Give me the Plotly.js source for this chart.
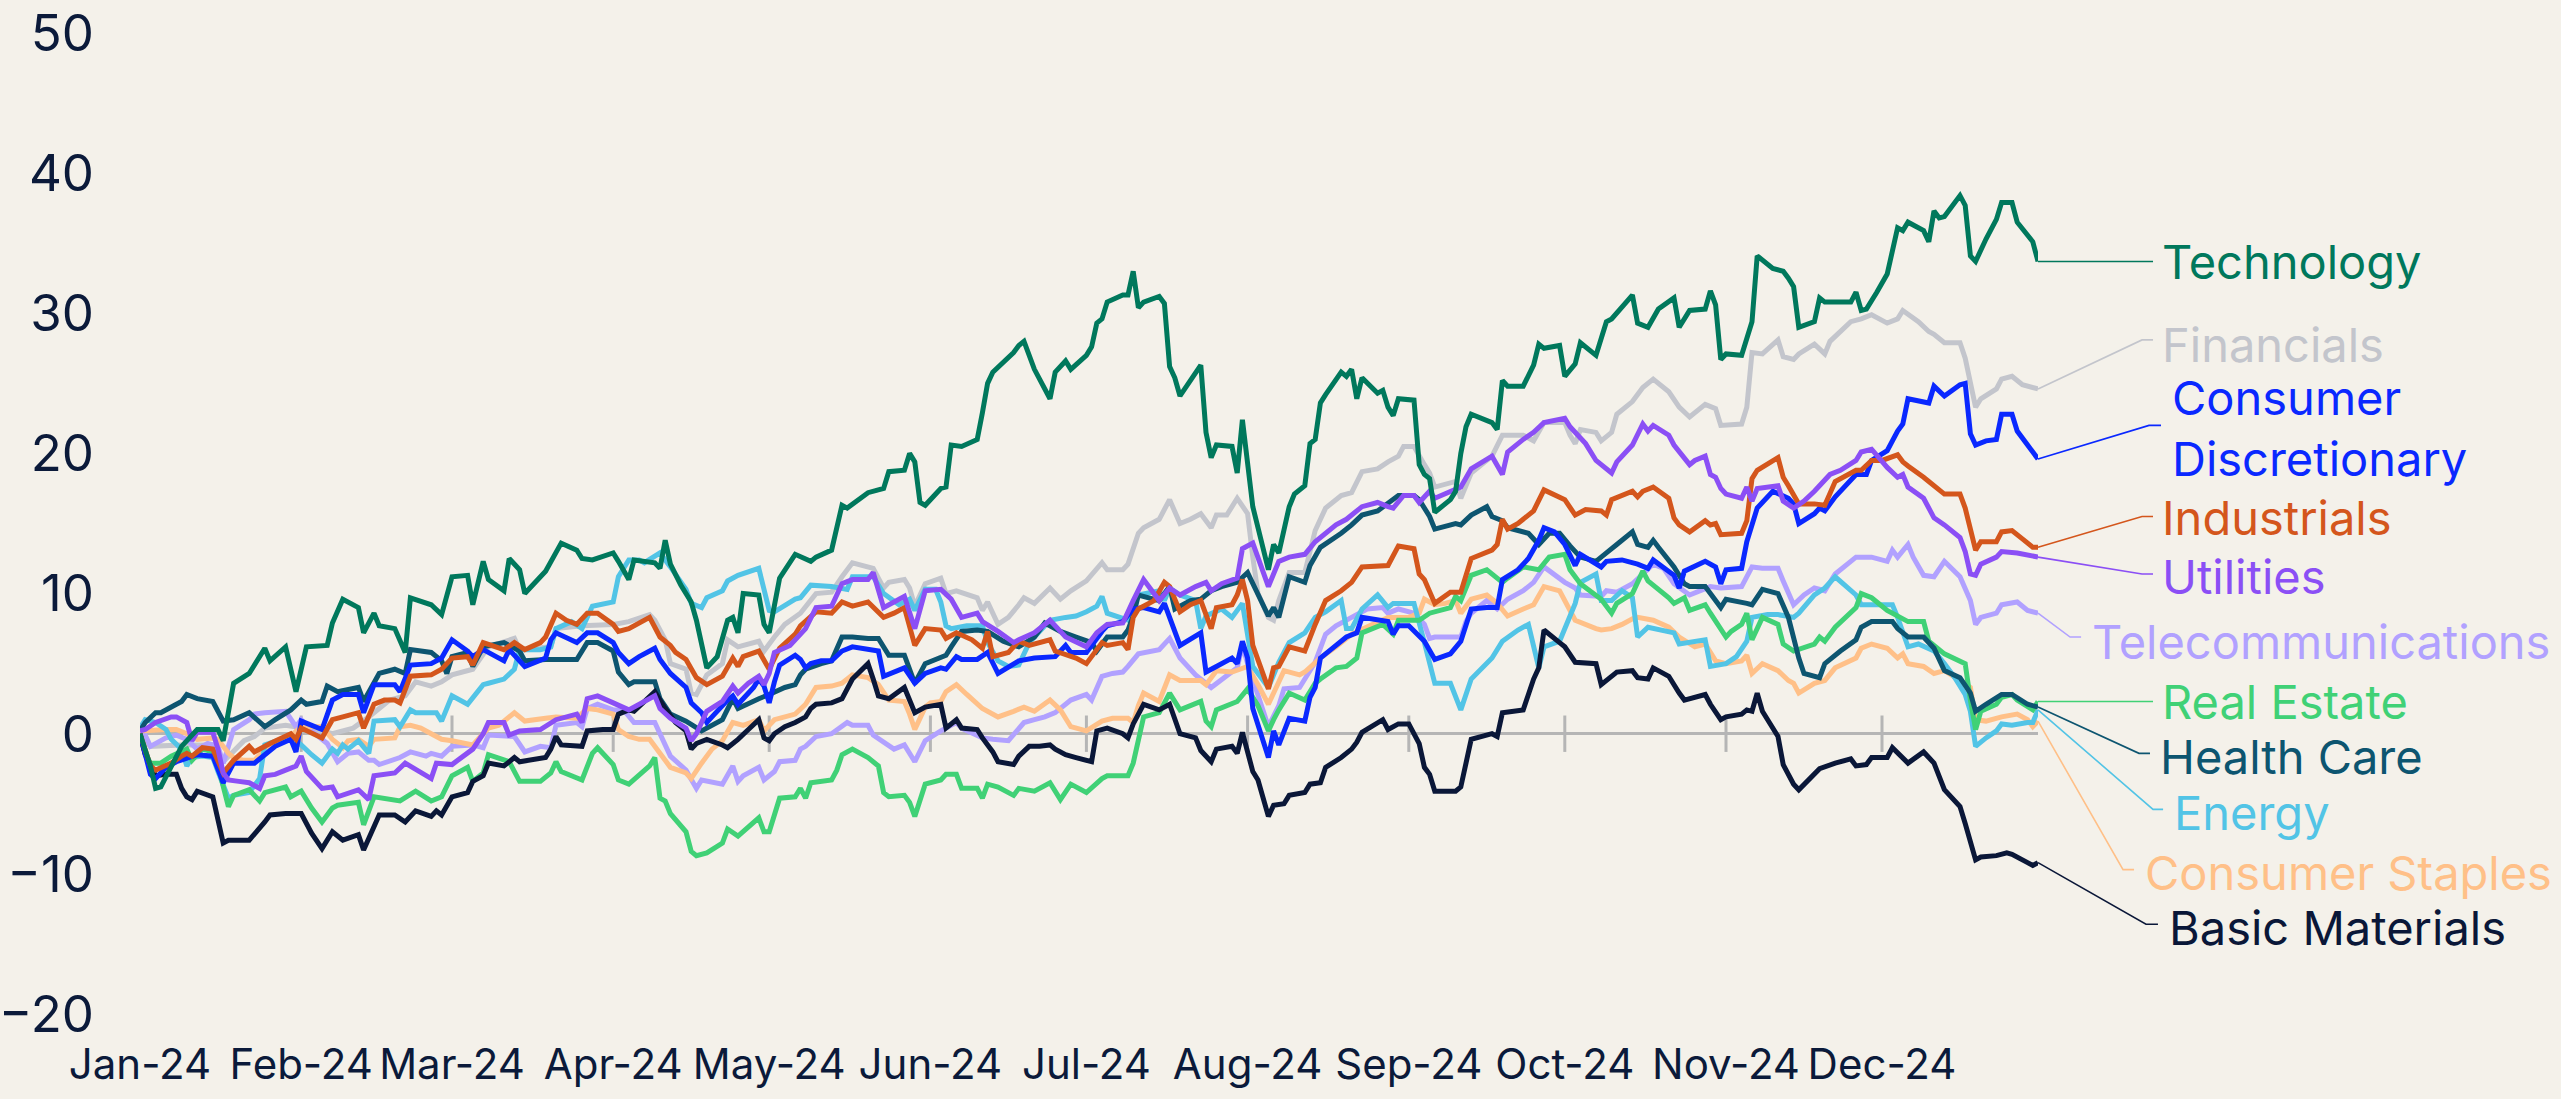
<!DOCTYPE html>
<html>
<head>
<meta charset="utf-8">
<script src="https://cdn.plot.ly/plotly-3.0.1.min.js"></script>
<style>
html,body{margin:0;padding:0;background:#F4F1EA;}
#chart{width:2561px;height:1099px;}
</style>
</head>
<body>
<div id="chart"></div>
<script>
// ---- DATA: [day offset from 2024-01-01, cumulative % return] ----
const technology = [[0,0],[2,-2.3],[3,-3.9],[4,-3.8],[8,-0.9],[11,0.3],[15,0.3],[16,-0.5],[18,3.6],[21,4.3],[24,6.1],[25,5.2],[28,6.2],[30,3.0],[32,6.2],[36,6.3],[37,7.9],[39,9.6],[42,9.0],[43,7.2],[45,8.6],[46,7.7],[49,7.5],[51,5.8],[52,9.7],[56,9.2],[58,8.5],[60,11.2],[63,11.3],[64,9.2],[66,12.3],[67,11.0],[70,10.2],[71,12.5],[73,11.7],[74,10.0],[78,11.6],[81,13.6],[84,13.1],[85,12.5],[87,12.4],[91,12.9],[92,12.3],[94,11.0],[95,12.4],[99,12.2],[100,11.8],[101,13.8],[102,12.1],[104,10.6],[106,9.4],[107,8.1],[109,4.7],[111,5.5],[113,8.1],[114,8.3],[115,7.2],[116,10.0],[119,9.9],[120,7.8],[121,7.2],[123,11.1],[126,12.8],[129,12.3],[130,12.6],[133,13.1],[135,16.3],[136,16.1],[140,17.2],[143,17.5],[144,18.7],[147,18.8],[148,20.0],[149,19.4],[150,16.5],[151,16.3],[154,17.5],[155,17.6],[156,20.6],[158,20.5],[161,21.0],[162,22.9],[163,25.0],[164,25.8],[168,27.2],[169,27.7],[170,28.0],[172,26.0],[175,23.9],[176,25.8],[178,26.6],[179,26.0],[182,27.0],[183,27.6],[184,29.3],[185,29.6],[186,30.8],[189,31.3],[190,31.3],[191,33.0],[192,30.4],[193,30.8],[196,31.2],[197,30.7],[198,26.2],[199,25.4],[200,24.1],[204,26.3],[205,21.5],[206,19.7],[207,20.6],[210,20.5],[211,18.6],[212,22.4],[214,16.2],[217,11.7],[218,13.5],[219,12.9],[221,16.2],[222,17.1],[224,17.7],[225,20.7],[226,21.0],[227,23.6],[228,24.2],[231,25.8],[232,25.5],[233,26.0],[234,23.9],[235,25.4],[238,24.3],[239,24.5],[240,23.3],[241,22.7],[242,23.9],[245,23.8],[246,19.2],[247,18.5],[248,18.2],[249,15.8],[252,16.7],[253,17.3],[254,20.0],[255,21.9],[256,22.8],[260,22.2],[261,21.7],[262,25.2],[263,24.8],[266,24.8],[268,26.3],[269,27.8],[270,27.5],[273,27.7],[274,25.5],[276,26.4],[277,27.9],[280,27.0],[282,29.4],[283,29.6],[287,31.3],[288,29.3],[290,29.0],[292,30.3],[295,31.1],[296,29.0],[298,30.2],[301,30.3],[302,31.6],[303,30.6],[304,26.7],[305,27.1],[308,27.0],[310,29.4],[311,34.1],[314,33.2],[316,33.0],[317,32.5],[318,31.9],[319,29.0],[322,29.4],[323,31.1],[324,30.8],[329,30.8],[330,31.5],[331,30.2],[332,30.3],[334,31.5],[336,32.8],[338,36.1],[339,35.9],[340,36.5],[343,35.9],[344,35.1],[345,37.3],[346,36.8],[347,36.9],[350,38.4],[351,37.7],[352,34.1],[353,33.7],[355,35.3],[357,36.7],[358,37.9],[360,37.9],[361,36.5],[364,35.1],[365,33.7]];

const financials = [[0,0],[2,-0.9],[8,-0.8],[14,-0.8],[16,-2.0],[20,-0.5],[22,-0.2],[24,0.4],[28,0.6],[35,0.2],[37,0.0],[41,0.4],[44,1.2],[48,2.4],[51,2.7],[53,3.7],[56,3.4],[58,3.7],[60,4.2],[64,4.6],[67,6.2],[72,6.8],[73,6.0],[79,6.2],[80,7.5],[85,7.7],[91,7.8],[94,8.0],[98,8.5],[99,8.1],[101,6.7],[102,5.0],[105,4.6],[106,2.9],[107,2.8],[109,4.2],[112,5.0],[113,6.7],[115,6.2],[119,6.6],[120,5.9],[122,6.9],[124,7.8],[127,8.6],[130,10.0],[133,10.1],[135,11.2],[137,12.2],[141,11.8],[143,10.4],[144,10.8],[147,11.0],[148,10.4],[149,9.1],[151,10.7],[154,11.1],[155,10.0],[157,10.2],[161,9.7],[162,8.8],[163,9.4],[165,7.8],[167,8.3],[169,9.2],[170,9.7],[172,9.3],[175,10.4],[177,9.6],[179,10.2],[182,10.9],[185,12.2],[186,11.7],[189,11.7],[190,12.1],[192,14.3],[193,14.7],[196,15.3],[198,16.7],[200,15.0],[202,15.3],[204,15.7],[206,14.7],[207,15.6],[209,15.6],[211,16.8],[213,15.7],[214,12.6],[215,10.0],[217,8.3],[218,8.1],[219,9.5],[221,11.5],[224,11.5],[226,14.5],[228,16.1],[231,17.0],[233,17.2],[235,18.7],[238,18.9],[240,19.4],[242,19.8],[243,20.5],[245,20.5],[247,19.2],[248,18.6],[249,17.6],[253,18.0],[254,16.8],[256,18.6],[260,19.8],[262,21.3],[266,21.3],[268,20.9],[270,22.2],[274,22.2],[275,21.3],[276,20.7],[277,21.7],[280,21.5],[281,20.9],[283,21.5],[284,22.8],[287,23.7],[289,24.7],[291,25.3],[294,24.4],[296,23.3],[298,22.6],[301,23.5],[303,23.2],[304,22.0],[308,22.1],[309,23.3],[310,27.2],[312,27.1],[315,28.1],[316,26.9],[318,26.7],[319,27.1],[322,27.8],[324,27.1],[325,28.0],[329,29.4],[331,29.6],[333,29.9],[336,29.3],[338,29.6],[339,30.2],[342,29.4],[344,28.7],[345,28.5],[347,27.9],[350,27.9],[351,26.8],[353,23.3],[354,23.9],[357,24.6],[358,25.3],[360,25.5],[362,24.9],[365,24.6]];

const consumerDiscretionary = [[0,0],[2,-2.9],[3,-3.2],[5,-2.4],[7,-2.0],[11,-1.5],[14,-1.6],[16,-3.5],[18,-2.1],[22,-2.1],[24,-1.5],[26,-0.9],[29,-0.4],[30,-1.3],[31,0.9],[35,0.3],[37,2.4],[39,2.8],[42,2.8],[43,1.5],[45,3.5],[49,3.5],[50,3.0],[52,4.9],[56,5.0],[58,5.4],[60,6.7],[63,5.9],[64,5.5],[66,6.0],[70,5.2],[71,6.0],[74,4.8],[78,5.4],[79,6.7],[80,7.2],[84,6.5],[86,7.2],[88,7.2],[91,6.5],[92,5.8],[94,5.0],[96,5.5],[99,6.1],[100,5.3],[102,4.3],[105,3.3],[106,2.2],[108,1.5],[109,0.8],[110,1.2],[113,2.4],[114,2.7],[115,2.1],[118,3.3],[119,3.9],[120,3.4],[121,2.2],[122,3.7],[123,4.9],[126,5.6],[127,5.3],[128,4.7],[129,5.0],[131,5.2],[133,5.2],[135,5.9],[137,6.2],[142,5.9],[143,4.1],[147,4.7],[149,3.6],[151,4.3],[154,4.7],[155,4.6],[157,5.5],[158,5.3],[161,5.3],[163,5.8],[165,4.3],[169,5.2],[172,5.4],[176,5.5],[178,6.3],[179,5.8],[182,5.8],[185,7.3],[186,7.7],[189,8.0],[191,8.9],[193,9.0],[196,8.7],[197,9.3],[200,6.3],[204,7.2],[205,4.4],[207,4.8],[210,5.4],[211,5.0],[212,6.6],[213,5.4],[214,1.8],[217,-1.7],[218,0.2],[219,-0.8],[221,1.1],[224,0.9],[225,2.6],[226,3.3],[227,5.4],[229,6.0],[232,6.9],[234,7.2],[235,8.3],[240,8.0],[241,7.1],[242,7.7],[244,7.7],[247,6.6],[249,5.3],[252,5.7],[254,6.6],[256,8.9],[259,9.0],[261,9.0],[262,11.0],[265,11.7],[267,12.5],[269,13.8],[270,14.7],[272,14.4],[274,13.5],[276,12.0],[277,12.8],[281,11.9],[282,12.3],[285,12.4],[288,12.1],[290,11.8],[291,12.4],[295,11.3],[296,10.4],[297,11.6],[301,12.3],[303,11.9],[304,10.7],[305,11.7],[308,11.8],[309,13.7],[311,16.1],[314,17.3],[317,16.8],[318,16.4],[319,15.0],[322,15.7],[323,16.1],[324,15.9],[326,16.9],[330,18.5],[332,18.5],[333,19.5],[336,20.2],[338,21.6],[339,22.1],[340,23.9],[344,23.6],[345,24.8],[347,24.1],[350,24.9],[351,25.0],[352,21.4],[353,20.6],[355,20.9],[357,21.0],[358,22.8],[360,22.8],[361,21.6],[363,20.6],[365,19.6]];

const industrials = [[0,0],[2,-2.3],[3,-2.6],[6,-2.1],[8,-1.6],[9,-1.4],[10,-1.6],[12,-1.0],[14,-1.1],[16,-2.8],[18,-1.9],[21,-0.9],[22,-1.3],[25,-0.7],[29,0.0],[30,-0.4],[31,0.4],[35,-0.3],[37,1.0],[39,1.2],[42,1.5],[43,0.4],[45,2.1],[47,2.4],[49,2.4],[50,2.2],[52,4.1],[56,4.2],[58,4.6],[60,5.4],[63,5.5],[64,4.9],[66,6.5],[70,6.0],[72,6.5],[74,6.0],[77,6.5],[78,6.9],[80,8.6],[82,8.1],[84,7.8],[86,8.6],[88,8.6],[91,7.8],[92,7.3],[94,7.5],[98,8.3],[100,6.9],[102,6.3],[103,5.8],[105,5.3],[107,4.0],[109,3.5],[112,4.1],[114,5.4],[115,4.8],[116,5.5],[119,5.9],[121,4.6],[123,6.1],[126,7.1],[127,7.7],[130,8.7],[133,8.6],[135,9.4],[137,9.1],[140,9.4],[143,8.3],[145,8.6],[147,9.0],[149,6.3],[151,7.5],[154,7.4],[155,6.8],[157,7.2],[160,6.7],[162,6.1],[163,7.3],[164,5.5],[167,5.8],[169,6.6],[171,6.3],[175,6.7],[176,5.9],[180,5.4],[182,5.0],[185,6.5],[186,6.3],[189,6.5],[190,6.0],[191,8.3],[192,8.9],[195,9.5],[197,10.8],[198,10.5],[200,8.7],[202,9.2],[204,9.5],[206,7.5],[207,9.0],[210,9.2],[211,9.9],[212,11.0],[213,9.5],[214,6.3],[217,3.2],[218,4.7],[219,4.8],[221,6.2],[224,5.9],[226,7.8],[228,9.5],[231,10.2],[233,10.8],[235,11.9],[240,12.0],[242,13.4],[245,13.2],[246,11.4],[247,11.0],[249,9.3],[252,10.1],[254,10.1],[256,12.5],[260,13.1],[261,13.5],[262,15.3],[263,14.6],[265,15.0],[268,15.9],[270,17.4],[274,16.7],[276,15.6],[278,16.0],[281,15.9],[282,15.6],[283,16.7],[287,17.3],[288,16.9],[289,17.3],[291,17.6],[294,16.8],[295,15.4],[296,14.9],[298,14.4],[301,15.2],[302,14.9],[303,15.0],[304,14.2],[308,14.3],[309,15.2],[310,18.2],[311,18.8],[315,19.7],[316,18.3],[317,17.7],[319,16.4],[322,16.4],[324,16.3],[326,18.0],[330,18.8],[331,18.8],[333,19.5],[335,19.5],[338,19.9],[339,19.4],[340,19.1],[343,18.3],[344,18.0],[347,17.1],[350,17.1],[351,16.1],[353,13.1],[354,13.7],[357,13.7],[358,14.4],[360,14.5],[362,13.9],[364,13.3],[365,13.3]];

const utilities = [[0,0.2],[1,0.3],[3,0.8],[6,1.2],[7,1.2],[9,0.8],[10,-0.5],[11,0.1],[14,0.1],[15,-1.1],[16,-2.8],[17,-3.3],[19,-3.4],[21,-3.5],[23,-3.9],[24,-3.0],[26,-2.9],[28,-2.6],[30,-2.3],[31,-1.6],[32,-2.7],[35,-3.9],[37,-3.8],[38,-4.5],[42,-4.0],[44,-4.7],[45,-3.0],[49,-2.8],[51,-2.1],[56,-3.2],[57,-2.1],[60,-2.2],[64,-1.1],[66,0.0],[67,0.8],[70,0.8],[71,-0.1],[73,0.2],[77,0.3],[80,1.0],[84,1.4],[85,0.8],[86,2.5],[88,2.7],[91,2.2],[94,1.7],[99,2.7],[100,1.8],[102,1.1],[105,0.4],[106,-0.5],[107,0.0],[109,1.6],[112,2.3],[114,3.4],[115,2.9],[117,3.6],[119,4.1],[120,3.5],[121,4.3],[122,5.8],[125,6.3],[128,7.5],[130,9.0],[133,9.1],[135,10.7],[137,11.0],[140,11.0],[141,11.5],[143,9.0],[145,9.4],[147,9.8],[149,7.5],[151,10.2],[154,10.3],[156,9.6],[158,8.3],[161,8.6],[162,8.0],[165,7.3],[168,6.5],[169,6.7],[172,7.2],[175,8.1],[177,7.3],[178,6.9],[182,6.2],[184,7.2],[186,7.8],[189,7.9],[191,9.5],[193,11.0],[196,9.5],[198,10.4],[200,9.9],[203,10.5],[205,10.8],[206,10.2],[208,10.7],[211,11.1],[212,13.2],[214,13.6],[217,10.5],[219,12.3],[221,12.6],[224,12.8],[226,13.7],[230,14.9],[232,15.3],[235,16.2],[238,16.5],[240,16.2],[241,16.1],[243,17.0],[245,17.0],[246,16.5],[248,17.3],[249,16.8],[254,17.6],[256,18.9],[260,19.8],[262,18.5],[263,20.1],[266,21.0],[268,21.5],[270,22.2],[274,22.5],[275,21.9],[278,20.7],[280,19.5],[283,18.6],[284,19.4],[287,20.6],[289,22.1],[290,21.6],[291,22.0],[294,21.3],[295,20.6],[298,19.2],[299,19.5],[301,19.8],[302,18.5],[303,18.3],[304,17.5],[305,17.1],[308,16.8],[309,17.6],[310,16.6],[311,17.5],[315,17.7],[316,16.6],[318,16.1],[320,16.6],[322,17.3],[325,18.5],[327,18.8],[330,19.5],[331,20.1],[333,20.3],[336,19.0],[338,18.3],[339,18.5],[340,17.6],[343,16.8],[345,15.4],[347,14.9],[350,14.0],[351,13.0],[352,11.4],[353,11.3],[354,12.1],[357,12.6],[358,13.0],[361,12.9],[365,12.6]];

const telecommunications = [[0,0],[1,-0.1],[2,-0.9],[5,-0.3],[7,-0.1],[9,-0.4],[11,-1.1],[13,-0.7],[15,-0.9],[16,-2.1],[18,0.3],[21,1.0],[22,1.4],[24,1.5],[28,1.6],[30,0.5],[31,1.0],[33,0.2],[36,-0.7],[38,-2.0],[40,-1.4],[42,-1.3],[44,-1.9],[45,-1.9],[46,-2.2],[50,-1.7],[52,-1.3],[55,-1.6],[56,-1.4],[58,-1.6],[60,-0.9],[64,-0.8],[66,-1.0],[67,-0.1],[72,-0.2],[74,-1.3],[77,-0.9],[79,-1.0],[80,0.6],[84,0.8],[85,0.5],[86,1.8],[88,2.1],[91,1.7],[93,1.7],[95,0.8],[99,0.8],[100,0.0],[102,-1.6],[105,-2.6],[107,-3.9],[108,-3.3],[112,-3.6],[114,-2.3],[115,-3.4],[116,-3.0],[119,-2.4],[120,-3.3],[122,-2.7],[123,-2.0],[126,-1.9],[127,-1.1],[128,-0.9],[130,-0.2],[133,0.0],[136,0.8],[137,0.6],[140,0.6],[141,-0.1],[145,-1.1],[147,-0.8],[149,-2.0],[151,-0.5],[154,0.2],[157,0.8],[158,0.4],[162,-0.3],[164,-0.4],[167,-0.5],[170,0.8],[172,1.0],[174,1.2],[176,1.5],[179,2.4],[182,2.8],[183,2.4],[185,4.1],[187,4.3],[189,4.4],[190,4.8],[192,5.7],[196,6.0],[198,6.8],[200,5.4],[203,4.2],[206,3.3],[211,4.7],[212,6.3],[213,5.0],[217,0.5],[219,2.0],[220,3.2],[223,3.3],[226,5.1],[228,7.1],[230,7.7],[233,8.3],[236,8.9],[239,9.0],[240,8.6],[242,8.9],[245,8.6],[247,7.8],[248,6.8],[249,6.9],[254,6.9],[255,8.0],[256,8.6],[259,9.5],[261,8.9],[263,9.6],[266,10.2],[268,10.8],[270,11.9],[274,10.8],[276,10.4],[277,9.9],[281,9.8],[282,10.2],[284,10.1],[287,10.7],[289,11.4],[291,12.1],[293,11.8],[295,10.7],[298,9.9],[302,10.5],[304,10.4],[308,10.5],[310,11.9],[312,11.8],[315,11.8],[316,10.9],[318,9.2],[320,9.9],[322,10.4],[324,10.2],[326,11.4],[330,12.6],[333,12.6],[336,12.3],[337,13.1],[338,12.6],[340,13.5],[341,12.6],[343,11.3],[345,11.2],[347,12.3],[350,11.2],[352,9.5],[353,7.8],[354,8.3],[357,8.6],[358,9.2],[361,9.4],[363,8.8],[365,8.6]];

const realEstate = [[0,-0.2],[1,-1.4],[2,-2.1],[4,-2.1],[6,-1.6],[9,-1.1],[10,-1.9],[12,-1.1],[14,-1.3],[15,-2.3],[17,-5.2],[18,-4.4],[21,-4.0],[23,-4.8],[24,-4.2],[28,-3.8],[29,-4.5],[31,-4.1],[33,-5.3],[35,-6.3],[37,-5.3],[38,-5.1],[42,-4.9],[43,-6.5],[45,-4.5],[50,-4.8],[53,-4.1],[56,-4.8],[58,-4.5],[60,-3.0],[63,-2.4],[64,-3.4],[66,-2.8],[67,-1.5],[71,-2.0],[73,-3.4],[77,-3.4],[79,-2.8],[80,-2.0],[81,-2.7],[85,-3.3],[87,-1.4],[88,-1.0],[91,-2.2],[92,-3.3],[94,-3.6],[98,-2.3],[99,-1.7],[100,-4.6],[101,-4.8],[102,-5.7],[105,-7.0],[106,-8.4],[107,-8.7],[109,-8.5],[112,-7.8],[113,-6.8],[115,-7.3],[119,-6.0],[120,-7.0],[121,-7.0],[123,-4.6],[126,-4.5],[127,-3.9],[128,-4.6],[129,-3.5],[133,-3.3],[134,-2.6],[135,-1.5],[137,-1.1],[140,-1.7],[142,-2.3],[143,-4.2],[144,-4.5],[147,-4.4],[148,-4.9],[149,-5.9],[151,-3.6],[154,-3.3],[155,-2.9],[157,-2.9],[158,-3.9],[161,-3.9],[162,-4.6],[163,-3.6],[165,-3.8],[168,-4.4],[169,-3.9],[172,-4.1],[175,-3.5],[177,-4.7],[179,-3.6],[182,-4.2],[185,-3.2],[186,-3.0],[190,-3.0],[191,-2.1],[193,1.2],[196,1.5],[198,2.9],[200,1.7],[204,2.3],[205,0.9],[206,0.5],[207,1.7],[211,2.3],[213,3.2],[215,2.0],[217,0.2],[218,1.0],[219,1.7],[221,2.9],[224,2.4],[226,3.6],[227,3.9],[230,4.7],[232,4.8],[234,5.4],[235,7.2],[239,7.8],[241,7.1],[242,8.1],[246,8.1],[248,8.6],[252,9.0],[253,9.8],[254,9.5],[256,11.3],[259,11.7],[262,10.8],[263,11.1],[266,11.9],[269,11.7],[271,12.6],[274,12.8],[275,11.7],[277,10.7],[281,9.6],[283,8.6],[284,9.3],[287,10.0],[289,11.6],[290,10.9],[294,9.7],[295,9.3],[297,9.7],[298,8.8],[301,9.2],[302,8.6],[305,6.9],[306,7.3],[308,7.8],[309,8.6],[310,6.7],[312,8.3],[315,7.8],[316,6.4],[318,5.9],[322,6.4],[323,6.9],[324,6.6],[326,7.6],[330,9.0],[331,10.0],[333,9.7],[336,8.8],[340,8.0],[343,8.0],[344,6.6],[347,5.7],[351,5.0],[352,2.4],[353,0.3],[354,1.6],[357,2.1],[358,2.6],[360,2.8],[361,2.4],[364,1.7],[365,2.3]];

const healthCare = [[0,0.2],[1,0.8],[3,1.5],[4,1.5],[7,2.1],[8,2.3],[9,2.8],[11,2.5],[14,2.3],[16,0.9],[18,1.0],[21,1.5],[24,0.5],[26,1.0],[29,1.7],[31,2.4],[32,2.1],[35,2.3],[36,3.4],[38,3.0],[42,3.3],[43,2.3],[46,4.3],[49,4.6],[51,4.3],[52,6.0],[56,5.8],[58,5.2],[59,4.3],[60,5.5],[63,5.8],[64,4.8],[66,6.2],[70,6.5],[73,5.9],[74,5.2],[78,5.3],[80,5.3],[84,5.3],[86,6.5],[88,6.5],[91,5.9],[92,4.4],[94,3.5],[95,3.7],[99,3.7],[100,2.5],[102,1.4],[105,0.9],[108,0.2],[112,1.0],[114,2.5],[115,1.8],[119,2.5],[121,2.8],[124,3.3],[126,3.5],[127,4.2],[128,4.6],[131,5.0],[133,5.2],[135,6.9],[137,6.9],[140,6.8],[142,6.8],[144,5.6],[147,5.6],[149,3.6],[151,5.0],[155,5.6],[156,6.2],[158,7.3],[161,7.4],[163,7.3],[166,6.6],[169,6.2],[172,6.9],[174,7.9],[177,7.3],[180,6.9],[183,6.5],[184,5.9],[186,6.9],[189,6.9],[190,7.4],[191,8.4],[192,9.9],[196,9.5],[198,10.5],[199,8.9],[202,9.5],[204,9.6],[206,10.2],[208,10.5],[211,10.8],[213,11.5],[217,8.4],[218,9.0],[219,8.3],[221,11.2],[224,10.8],[225,12.0],[227,13.3],[231,14.3],[233,14.9],[235,15.6],[238,15.9],[242,17.0],[245,17.0],[246,16.7],[248,15.5],[249,14.6],[253,15.0],[254,14.9],[256,15.6],[259,16.2],[260,15.5],[262,15.2],[263,14.7],[267,14.3],[269,13.5],[271,14.3],[273,14.3],[275,13.4],[277,12.6],[280,12.3],[282,12.9],[284,13.5],[287,14.4],[288,13.5],[290,13.3],[291,13.8],[292,13.3],[295,11.9],[297,10.7],[298,10.5],[301,10.5],[302,10.0],[304,9.0],[305,9.6],[309,9.3],[310,9.2],[312,10.3],[315,10.0],[317,8.3],[319,5.4],[320,4.3],[323,4.0],[324,5.0],[327,5.9],[330,6.7],[331,7.6],[333,8.0],[337,8.0],[338,7.5],[340,6.9],[343,6.9],[345,6.1],[347,4.5],[350,4.0],[352,2.9],[353,1.6],[355,2.1],[358,2.8],[360,2.8],[363,2.1],[365,1.9]];

const energy = [[0,0.4],[1,1.0],[3,0.8],[5,0.3],[6,-0.4],[8,-1.1],[9,-2.3],[10,-1.7],[12,-1.6],[14,-1.7],[15,-2.7],[17,-4.6],[18,-4.4],[21,-4.2],[23,-3.2],[24,-0.8],[28,-0.3],[30,-0.5],[31,-0.8],[33,-1.5],[35,-2.1],[37,-1.1],[38,-1.4],[39,-0.8],[40,-1.1],[42,-0.5],[44,-1.4],[45,0.9],[49,1.0],[50,0.5],[52,1.7],[53,1.5],[57,1.5],[58,0.9],[60,2.7],[63,2.1],[66,3.5],[67,3.6],[70,3.9],[72,4.6],[73,6.0],[77,6.0],[79,6.2],[80,7.5],[83,8.0],[85,7.5],[87,9.1],[91,9.4],[92,11.2],[94,12.4],[96,12.4],[97,12.2],[100,12.9],[102,11.9],[105,10.3],[106,9.3],[108,9.0],[109,9.7],[112,10.2],[113,10.9],[115,11.3],[119,11.8],[121,8.8],[122,8.7],[126,9.6],[127,9.7],[129,10.6],[133,10.5],[136,10.3],[137,11.2],[141,11.2],[143,10.0],[146,9.2],[148,9.6],[149,8.8],[151,10.3],[153,10.3],[154,9.4],[155,7.7],[156,7.5],[159,7.7],[162,7.7],[163,6.5],[165,5.2],[167,4.8],[169,4.9],[171,6.5],[175,8.1],[178,8.3],[180,8.4],[182,8.7],[184,9.1],[185,9.8],[186,8.6],[190,8.1],[192,9.9],[196,10.2],[197,9.5],[198,10.4],[200,9.9],[203,9.5],[204,7.5],[205,8.4],[208,8.9],[210,8.3],[212,9.3],[214,4.8],[217,3.3],[219,5.1],[221,6.5],[224,7.2],[226,8.3],[228,8.7],[231,9.5],[232,7.5],[233,7.5],[235,8.9],[238,9.9],[240,9.0],[241,9.3],[245,9.3],[247,6.5],[249,3.6],[252,3.6],[254,1.7],[256,3.9],[260,5.4],[262,6.6],[265,7.4],[267,7.8],[269,4.7],[270,6.2],[273,6.6],[276,9.3],[277,10.8],[280,11.4],[281,9.5],[283,9.5],[285,10.2],[287,9.7],[288,6.9],[290,7.6],[295,7.2],[296,6.4],[301,6.7],[302,4.8],[305,5.0],[307,5.5],[309,6.6],[310,8.3],[313,8.5],[315,8.5],[318,8.3],[319,8.6],[322,9.9],[324,10.4],[326,11.2],[330,9.9],[331,9.2],[333,9.2],[337,9.2],[338,8.3],[340,6.2],[342,6.4],[345,5.9],[347,5.0],[349,4.0],[351,2.8],[352,1.6],[353,-0.9],[355,-0.3],[357,0.2],[358,0.7],[360,0.6],[363,0.8],[364,0.8],[365,1.7]];

const consumerStaples = [[0,0.2],[5,0.3],[7,0.3],[9,0.0],[11,-0.4],[14,-0.3],[15,-0.4],[17,-1.4],[18,-1.7],[20,-1.9],[22,-1.9],[24,-1.1],[26,-0.7],[28,-0.5],[31,0.5],[35,0.5],[37,-0.4],[39,-1.0],[40,-0.5],[42,-0.4],[44,-0.9],[45,-0.4],[49,-0.3],[50,0.5],[52,0.6],[54,0.4],[56,0.0],[58,-0.4],[60,-0.5],[64,-0.8],[66,0.0],[67,0.4],[69,0.6],[70,0.9],[72,1.5],[74,0.9],[78,1.1],[80,1.2],[84,1.1],[86,1.8],[88,1.7],[91,1.4],[92,0.3],[94,-0.2],[96,-0.4],[98,-0.4],[102,-2.4],[105,-2.8],[106,-3.2],[108,-2.1],[110,-1.1],[112,-0.5],[114,0.8],[116,0.6],[119,1.0],[120,0.2],[122,1.0],[126,1.4],[128,2.1],[130,3.3],[133,3.4],[135,3.6],[137,4.2],[140,4.0],[142,3.5],[144,2.4],[147,2.3],[148,1.4],[149,0.3],[151,1.9],[152,2.2],[154,2.3],[155,3.0],[157,3.5],[159,2.8],[162,1.8],[165,1.2],[168,1.6],[170,1.9],[172,1.6],[175,2.4],[177,1.7],[179,0.5],[182,0.2],[185,0.9],[187,1.1],[190,1.1],[191,0.8],[192,2.0],[193,2.9],[196,2.3],[198,4.2],[200,3.8],[204,3.8],[205,3.5],[207,4.5],[210,4.4],[213,4.8],[215,3.5],[217,2.1],[220,4.5],[223,4.2],[224,4.4],[227,5.4],[230,6.2],[233,7.1],[237,7.8],[240,8.3],[244,8.3],[246,8.6],[247,9.6],[249,9.2],[251,9.3],[253,9.5],[254,8.6],[256,9.6],[259,9.9],[261,9.3],[263,8.4],[266,8.9],[268,9.2],[270,10.5],[273,10.2],[276,8.1],[280,7.5],[281,7.4],[283,7.5],[285,7.8],[287,8.2],[288,8.3],[291,8.1],[294,7.6],[296,6.9],[299,6.2],[301,6.4],[303,5.2],[305,5.0],[308,5.2],[309,5.6],[310,4.3],[312,5.0],[315,4.5],[317,3.8],[318,3.6],[319,2.9],[322,3.6],[324,3.8],[326,4.7],[330,5.4],[331,6.1],[333,6.4],[336,6.1],[338,5.4],[339,5.7],[340,5.0],[343,4.8],[345,4.3],[347,4.5],[350,3.8],[352,3.3],[353,1.0],[355,0.9],[358,1.2],[361,1.4],[363,1.0],[364,0.5],[365,0.9]];

const basicMaterials = [[0,0],[1,-1.5],[3,-3.0],[5,-2.9],[7,-2.9],[8,-3.9],[9,-4.5],[10,-4.7],[11,-4.1],[14,-4.5],[16,-7.8],[17,-7.6],[21,-7.6],[24,-6.3],[25,-5.8],[28,-5.7],[31,-5.7],[33,-7.1],[35,-8.2],[37,-7.0],[39,-7.6],[42,-7.2],[43,-8.3],[46,-5.8],[49,-5.8],[51,-6.3],[53,-5.5],[56,-5.9],[57,-5.5],[58,-5.8],[60,-4.5],[63,-4.2],[64,-3.4],[66,-3.0],[67,-2.1],[70,-2.3],[72,-1.7],[73,-2.0],[78,-1.7],[79,-1.1],[80,-0.2],[81,-0.8],[85,-0.9],[86,0.2],[89,0.3],[91,0.3],[92,1.4],[94,1.7],[95,1.6],[99,3.0],[101,1.8],[103,0.8],[105,0.2],[106,-1.1],[107,-0.7],[109,-0.4],[112,-0.8],[113,-1.0],[115,-0.4],[117,0.3],[119,1.0],[120,-0.3],[121,-0.5],[122,0.0],[124,0.5],[126,0.8],[128,1.2],[129,1.8],[130,2.1],[133,2.2],[135,2.5],[137,3.9],[140,5.0],[141,3.9],[142,2.7],[144,2.5],[147,3.3],[149,1.5],[151,1.9],[154,2.1],[155,0.4],[157,1.0],[158,0.4],[161,0.3],[162,-0.3],[164,-1.3],[165,-2.0],[168,-2.2],[169,-1.6],[171,-0.9],[173,-0.9],[175,-0.8],[176,-1.1],[178,-1.5],[180,-1.7],[183,-2.0],[184,0.2],[186,0.4],[189,0.0],[190,-0.3],[191,0.7],[193,2.1],[196,1.7],[198,2.1],[200,0.0],[203,-0.3],[204,-1.2],[206,-2.0],[207,-1.1],[210,-0.9],[211,-1.4],[212,0.1],[214,-2.7],[215,-3.3],[217,-5.9],[218,-5.1],[220,-5.0],[221,-4.4],[224,-4.2],[225,-3.6],[227,-3.5],[228,-2.4],[231,-1.7],[233,-1.1],[234,-0.6],[235,0.1],[239,1.0],[240,0.3],[242,0.7],[244,0.7],[246,-0.7],[247,-2.4],[248,-2.9],[249,-4.1],[253,-4.1],[254,-3.8],[256,-0.4],[260,0.0],[261,-0.2],[262,1.5],[266,1.7],[268,3.9],[269,4.7],[270,7.4],[273,6.5],[274,6.2],[276,5.1],[280,5.0],[281,3.5],[284,4.4],[287,4.5],[288,4.0],[290,3.9],[291,4.7],[294,4.1],[296,2.9],[297,2.4],[301,2.8],[302,2.1],[304,1.0],[305,1.2],[308,1.4],[309,1.7],[310,1.6],[311,2.9],[312,1.6],[315,-0.2],[316,-2.2],[318,-3.6],[319,-4.0],[323,-2.5],[326,-2.1],[329,-1.8],[330,-2.3],[332,-2.2],[333,-1.7],[336,-1.7],[337,-1.0],[340,-2.1],[343,-1.3],[344,-1.7],[345,-2.1],[347,-4.0],[350,-5.2],[351,-6.4],[353,-9.0],[354,-8.8],[357,-8.7],[359,-8.5],[360,-8.6],[363,-9.2],[364,-9.4],[365,-9.2]];

const seriesNames = ['Financials','Telecommunications','Consumer Staples','Energy','Real Estate','Health Care','Basic Materials','Consumer Discretionary','Industrials','Utilities','Technology'];
const seriesData = [financials, telecommunications, consumerStaples, energy, realEstate, healthCare, basicMaterials, consumerDiscretionary, industrials, utilities, technology];
const seriesColors = ['#C3C5CC','#B1A1FF','#FFC088','#52C4E6','#40D176','#0D5570','#0A1738','#0A28FF','#D4561C','#8B4FF5','#00785C'];
const monthTicks = ['2024-02-01','2024-03-01','2024-04-01','2024-05-01','2024-06-01','2024-07-01','2024-08-01','2024-09-01','2024-10-01','2024-11-01','2024-12-01'];

// ---- LABEL LAYOUT (paper x, data y) ----
const labelText = {
  'Technology':'Technology','Financials':'Financials','Consumer Discretionary':'Consumer<br>Discretionary',
  'Industrials':'Industrials','Utilities':'Utilities','Telecommunications':'Telecommunications',
  'Real Estate':'Real Estate','Health Care':'Health Care','Energy':'Energy',
  'Consumer Staples':'Consumer Staples','Basic Materials':'Basic Materials'
};
// [elbowX, elbowY (null = straight), lineEndX, labelX, labelY]
const labelPos = {
  'Technology':[null,null,1.0606,1.0648,null],
  'Financials':[1.0548,28.1,1.0606,1.0648,27.8],
  'Consumer Discretionary':[1.0585,22.0,1.0648,1.0701,21.8],
  'Industrials':[1.0548,15.5,1.0606,1.0648,15.4],
  'Utilities':[1.0548,11.4,1.0606,1.0648,11.2],
  'Telecommunications':[1.0169,6.9,1.0227,1.0279,6.6],
  'Real Estate':[null,null,1.0606,1.0648,null],
  'Health Care':[1.0532,-1.4,1.0590,1.0638,-1.6],
  'Energy':[1.0606,-5.4,1.0659,1.0711,-5.6],
  'Consumer Staples':[1.0448,-9.7,1.0506,1.0558,-9.9],
  'Basic Materials':[1.0569,-13.6,1.0632,1.0685,-13.8]
};

function toDate(d){
  const t = Date.UTC(2024,0,1) + d*86400000;
  return new Date(t).toISOString().slice(0,10);
}

const FONT = 'Inter, "Open Sans", sans-serif';
const traces = [];
traces.push({
  x: monthTicks, y: monthTicks.map(()=>0), mode:'markers', type:'scatter',
  marker:{symbol:'line-ns', size:26, color:'#B5B5B5', line:{width:3, color:'#B5B5B5'}},
  hoverinfo:'skip', showlegend:false, cliponaxis:false
});
seriesData.forEach((s,i)=>{
  traces.push({
    x: s.map(p=>toDate(p[0])), y: s.map(p=>p[1]),
    type:'scatter', mode:'lines', name: seriesNames[i],
    line:{color: seriesColors[i], width:5, simplify:false},
    hoverinfo:'skip', showlegend:false
  });
});

const shapes = [];
const annotations = [];
seriesNames.forEach((name,i)=>{
  const s = seriesData[i];
  const endV = s[s.length-1][1];
  const pos = labelPos[name];
  const c = seriesColors[i];
  let path, ly;
  if (pos[0] === null) {
    path = `M 1,${endV} L ${pos[2]},${endV}`;
    ly = endV;
  } else {
    path = `M 1,${endV} L ${pos[0]},${pos[1]} L ${pos[2]},${pos[1]}`;
    ly = pos[4];
  }
  shapes.push({type:'path', xref:'paper', yref:'y', path:path, line:{color:c, width:1.6}});
  annotations.push({
    xref:'paper', yref:'y', x:pos[3], y:ly, text:labelText[name], showarrow:false,
    xanchor:'left', yanchor:'middle', align:'left', borderpad:0,
    font:{family:FONT, size:47, color:c}
  });
});

const layout = {
  width:2561, height:1099,
  paper_bgcolor:'#F4F1EA', plot_bgcolor:'#F4F1EA',
  margin:{l:140, r:523, t:33, b:85},
  showlegend:false, hovermode:false,
  xaxis:{
    type:'date', range:['2024-01-01','2024-12-31'],
    tickmode:'linear', tick0:'2024-01-01', dtick:'M1', tickformat:'%b-%y',
    showgrid:false, zeroline:false, showline:false, ticks:'',
    ticklabelstandoff:22,
    tickfont:{family:FONT, size:42, color:'#0B1A3A'}
  },
  yaxis:{
    range:[-20,50], tickmode:'linear', tick0:0, dtick:10,
    showgrid:false, zeroline:true, zerolinecolor:'#B5B5B5', zerolinewidth:3,
    showline:false, ticks:'', ticklabelstandoff:45,
    tickfont:{family:FONT, size:51, color:'#0B1A3A'}
  },
  shapes:shapes, annotations:annotations
};

Plotly.newPlot('chart', traces, layout, {staticPlot:true, displayModeBar:false});
</script>
</body>
</html>
